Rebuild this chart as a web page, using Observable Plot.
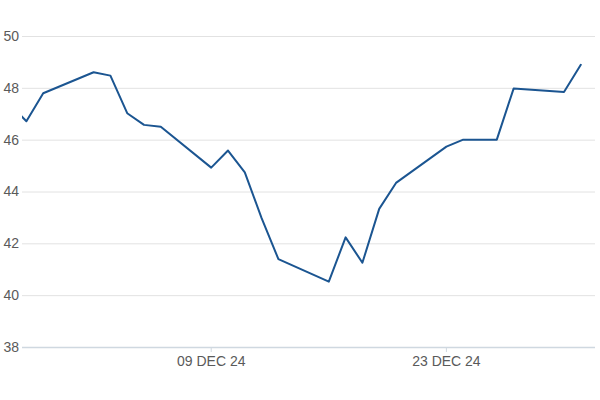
<!DOCTYPE html>
<html>
<head>
<meta charset="utf-8">
<script src="https://cdn.jsdelivr.net/npm/d3@7"></script>
<script src="https://cdn.jsdelivr.net/npm/@observablehq/plot@0.6"></script>
<style>
  html, body { margin: 0; padding: 0; background: #fff; }
  #chart { width: 600px; height: 400px; }
</style>
</head>
<body>
<div id="chart"></div>
<script>
const dates = [
  "2024-11-27","2024-11-28","2024-11-29","2024-12-02","2024-12-03","2024-12-04",
  "2024-12-05","2024-12-06","2024-12-09","2024-12-10","2024-12-11","2024-12-12",
  "2024-12-13","2024-12-16","2024-12-17","2024-12-18","2024-12-19","2024-12-20",
  "2024-12-23","2024-12-24","2024-12-26","2024-12-27","2024-12-30","2024-12-31"
];
const values = [
  47.40, 46.73, 47.81, 48.62, 48.49, 47.04,
  46.59, 46.52, 44.94, 45.60, 44.76, 42.99,
  41.41, 40.54, 42.25, 41.27, 43.35, 44.35,
  45.75, 46.02, 46.02, 47.99, 47.86, 48.91
];
const yTicks = [38, 40, 42, 44, 46, 48, 50];
const xTicks = ["2024-12-09", "2024-12-23"];

const data = dates.map((d, i) => ({date: new Date(d + "T00:00:00Z"), value: values[i]}));
const fmt = d3.utcFormat("%d %b %y");

const chart = Plot.plot({
  width: 600,
  height: 400,
  marginTop: 36,
  marginBottom: 53,
  marginLeft: 22,
  marginRight: 5,
  style: {fontFamily: "'Liberation Sans', Arial, sans-serif", fontSize: "14px", color: "#555", background: "#fff"},
  x: {type: "utc", label: null, domain: [new Date("2024-11-27T18:25:00Z"), new Date("2024-12-31T21:00:00Z")]},
  y: {label: null, domain: [38, 50]},
  marks: [
    Plot.gridY(yTicks, {stroke: "#e2e2e2", strokeOpacity: 1, strokeWidth: 1}),
    Plot.ruleY([38], {stroke: "#cfd8e0", strokeWidth: 1.5}),
    Plot.axisY(yTicks, {label: null, tickSize: 0, tickPadding: 19, textAnchor: "start", fill: "#5a5a5a", fontSize: 14}),
    Plot.axisX(xTicks.map(d => new Date(d + "T00:00:00Z")), {
      label: null, tickSize: 5, stroke: "#cfd8e0", tickPadding: 4, fill: "#5a5a5a", fontSize: 14,
      tickFormat: d => fmt(d).toUpperCase()
    }),
    Plot.line(data, {x: "date", y: "value", stroke: "#1b5591", strokeWidth: 2, clip: true})
  ]
});
document.getElementById("chart").appendChild(chart);
</script>
</body>
</html>
